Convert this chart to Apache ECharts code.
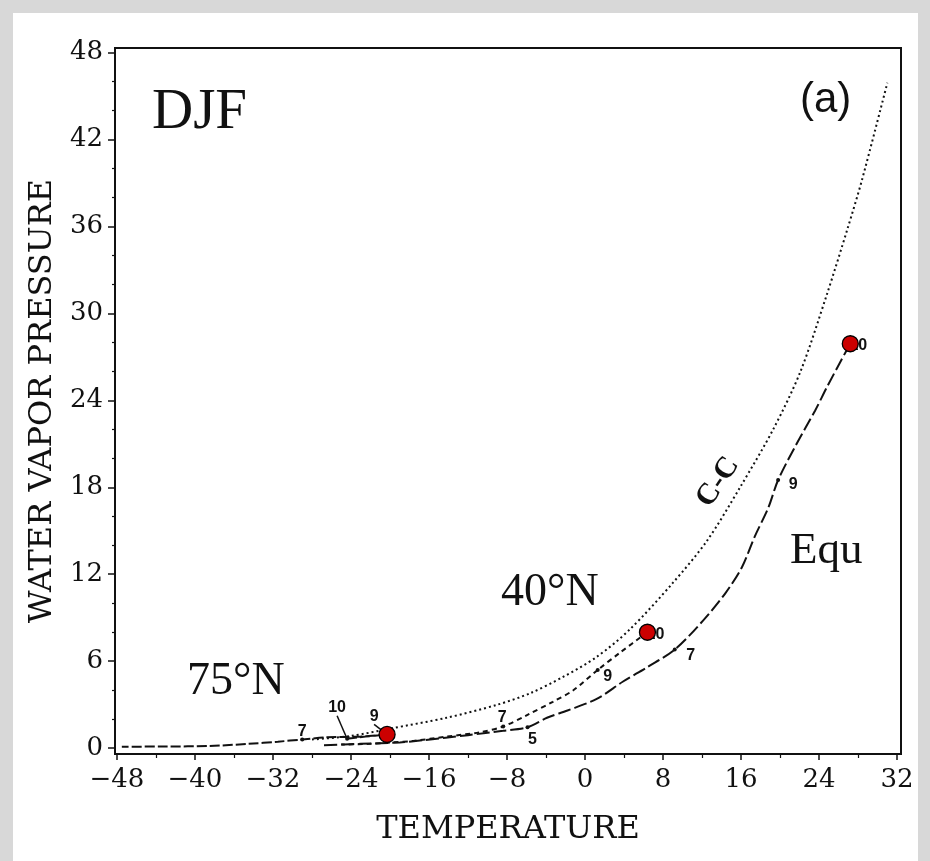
<!DOCTYPE html>
<html>
<head>
<meta charset="utf-8">
<script src="https://cdn.jsdelivr.net/npm/echarts@6/dist/echarts.min.js"></script>
<style>
  html, body { margin: 0; padding: 0; background: #ffffff; }
  #chart { width: 930px; height: 861px; }
</style>
</head>
<body>
<div id="chart"></div>
<script>
// Axis ticks
const xTicks = [-48, -40, -32, -24, -16, -8, 0, 8, 16, 24, 32];
const xMinorTicks = [-44, -36, -28, -20, -12, -4, 4, 12, 20, 28];
const yTicks = [0, 6, 12, 18, 24, 30, 36, 42, 48];
const yMinorTicks = [2, 4, 8, 10, 14, 16, 20, 22, 26, 28, 32, 34, 38, 40, 44, 46];

// Saturation (Clausius-Clapeyron) curve: temperature (°C) / vapour pressure
const ccTemp = [-28, -24, -20, -14.2, -9, -5.6, -2.3, 1.2, 4.6, 9.0, 12.5, 15.9, 19.3, 22.1, 24.8, 26.9, 28.4, 31.0];
const ccVap  = [0.6, 0.85, 1.35, 2.1, 3.0, 3.8, 4.9, 6.3, 8.2, 11.4, 14.3, 18.0, 22.0, 26.0, 31.3, 35.8, 39.2, 45.9];

// Equatorial profile (surface upward)
const equTemp = [27.2, 26.3, 24.8, 23.6, 21.7, 19.8, 18.8, 17.4, 16.1, 14.4, 12.1, 9.2, 6.4, 3.9, 1.2, -1.8, -3.9, -5.9, -8.4, -12.0, -16.6, -19.0, -23.0, -27.0];
const equVap  = [27.9, 26.8, 24.9, 23.3, 21.0, 18.5, 16.6, 14.6, 12.5, 10.7, 8.8, 6.8, 5.6, 4.6, 3.4, 2.6, 2.1, 1.45, 1.2, 0.9, 0.55, 0.4, 0.3, 0.2];

// 40°N profile
const n40Temp = [6.4, 3.6, 1.3, -1.2, -3.3, -5.9, -8.4, -10.8, -14.2, -17.6, -19.7, -22.0, -25.0];
const n40Vap  = [8.0, 6.6, 5.4, 4.0, 3.2, 2.3, 1.5, 1.1, 0.8, 0.5, 0.4, 0.3, 0.25];

// 75°N profile
const n75Temp = [-24.4, -22.5, -20.3, -23.0, -26.5, -29.0, -31.5, -34.5, -38.5, -43.0, -47.5];
const n75Vap  = [0.65, 0.8, 0.95, 0.8, 0.75, 0.6, 0.45, 0.3, 0.15, 0.12, 0.1];

// Labelled sigma levels on each profile
const equLevelTemp = [27.2, 19.8, 9.2, -5.9];
const equLevelVap  = [27.9, 18.5, 6.8, 1.45];
const equLevelName = ['10', '9', '7', '5'];
const n40LevelTemp = [6.4, 1.3, -8.4];
const n40LevelVap  = [8.0, 5.4, 1.5];
const n40LevelName = ['10', '9', '7'];
const n75LevelTemp = [-24.4, -20.3, -29.0];
const n75LevelVap  = [0.65, 0.95, 0.6];
const n75LevelName = ['10', '9', '7'];

// Highlighted points
const dotTemp = [-20.3, 6.4, 27.2];
const dotVap  = [0.95, 8.0, 27.9];

// Label placement (pixels relative to the marked point)
const equLabelOffset = [[8, 2], [15, 5], [16, 6], [5, 12]];
const n40LabelOffset = [[8, 2], [10, 7], [-1, -9]];
const n75LabelOffset = [[-10, -31], [-13, -18], [0, -8]];
const n75Leader = [true, true, false];

const zip = (a, b) => a.map((v, i) => [v, b[i]]);
const ink = '#111111';
const serif = 'DejaVu Serif';
const minus = v => String(v).replace('-', '\u2212');

function levelData(t, e, names, offsets) {
  return t.map((v, i) => ({
    value: [v, e[i]],
    label: { formatter: names[i], offset: offsets[i] }
  }));
}

const chart = echarts.init(document.getElementById('chart'), null, { renderer: 'canvas' });

const tickLabel = { fontFamily: serif, fontSize: 26, color: ink };
const levelLabel = { show: true, position: 'inside', align: 'center', verticalAlign: 'middle',
                     fontFamily: 'Liberation Sans', fontWeight: 'bold', fontSize: 16, color: ink };

chart.setOption({
  backgroundColor: '#ffffff',
  animation: false,
  grid: {
    left: 115, top: 48, width: 786, height: 706,
    show: true, borderColor: ink, borderWidth: 2, backgroundColor: 'transparent'
  },
  xAxis: [
    {
      type: 'value', min: -48.2, max: 32.4, position: 'bottom',
      axisLine: { show: true, onZero: false, lineStyle: { color: ink, width: 2 } },
      axisTick: { show: true, length: 6, customValues: xTicks, lineStyle: { color: ink, width: 1.5 } },
      axisLabel: Object.assign({ customValues: xTicks, margin: 13, formatter: minus }, tickLabel),
      splitLine: { show: false },
      name: 'TEMPERATURE', nameLocation: 'middle', nameGap: 60,
      nameTextStyle: { fontFamily: serif, fontSize: 32, color: ink }
    },
    {
      type: 'value', min: -48.2, max: 32.4, position: 'bottom',
      axisLine: { show: false, onZero: false },
      axisTick: { show: true, length: 4, customValues: xMinorTicks, lineStyle: { color: ink, width: 1.2 } },
      axisLabel: { show: false },
      splitLine: { show: false }
    }
  ],
  yAxis: [
    {
      type: 'value', min: -0.4, max: 48.3, position: 'left',
      axisLine: { show: true, onZero: false, lineStyle: { color: ink, width: 2 } },
      axisTick: { show: true, length: 7, customValues: yTicks, lineStyle: { color: ink, width: 1.5 } },
      axisLabel: Object.assign({ customValues: yTicks, margin: 12 }, tickLabel),
      splitLine: { show: false },
      name: 'WATER VAPOR PRESSURE', nameLocation: 'middle', nameGap: 46, nameRotate: 90,
      nameTextStyle: { fontFamily: serif, fontSize: 32, color: ink }
    },
    {
      type: 'value', min: -0.4, max: 48.3, position: 'left',
      axisLine: { show: false, onZero: false },
      axisTick: { show: true, length: 3, customValues: yMinorTicks, lineStyle: { color: ink, width: 1.2 } },
      axisLabel: { show: false },
      splitLine: { show: false }
    }
  ],
  graphic: [
    { type: 'rect', silent: true, z: -10, shape: { x: 0, y: 0, width: 930, height: 13 }, style: { fill: '#d8d8d8' } },
    { type: 'rect', silent: true, z: -10, shape: { x: 0, y: 0, width: 13, height: 861 }, style: { fill: '#d8d8d8' } },
    { type: 'rect', silent: true, z: -10, shape: { x: 918, y: 0, width: 12, height: 861 }, style: { fill: '#d8d8d8' } },
    { type: 'text', x: 152, y: 113, style: { text: 'DJF', font: '57px "Liberation Serif"', fill: ink, align: 'left', verticalAlign: 'middle' } },
    { type: 'text', x: 800, y: 100, style: { text: '(a)', font: '42px "Liberation Sans"', fill: ink, align: 'left', verticalAlign: 'middle' } },
    { type: 'text', x: 187, y: 682, style: { text: '75°N', font: '46px "Liberation Serif"', fill: ink, align: 'left', verticalAlign: 'middle' } },
    { type: 'text', x: 501, y: 593, style: { text: '40°N', font: '46px "Liberation Serif"', fill: ink, align: 'left', verticalAlign: 'middle' } },
    { type: 'text', x: 790, y: 551, style: { text: 'Equ', font: '45px "Liberation Serif"', fill: ink, align: 'left', verticalAlign: 'middle' } },
    { type: 'text', x: 718, y: 482, rotation: 56 * Math.PI / 180, style: { text: 'C-C', font: 'bold 30px "Liberation Serif"', fill: ink, align: 'center', verticalAlign: 'middle' } }
  ],
  series: [
    {
      name: 'C-C', type: 'line', data: zip(ccTemp, ccVap), smooth: 0.3, showSymbol: false,
      lineStyle: { color: ink, width: 2, type: [2, 3] }
    },
    {
      name: 'Equ', type: 'line', data: zip(equTemp, equVap), smooth: 0.3, showSymbol: false,
      lineStyle: { color: ink, width: 2, type: [13, 4] }
    },
    {
      name: '40°N', type: 'line', data: zip(n40Temp, n40Vap), smooth: 0.3, showSymbol: false,
      lineStyle: { color: ink, width: 2, type: [5, 4] }
    },
    {
      name: '75°N', type: 'line', data: zip(n75Temp, n75Vap), smooth: 0.3, showSymbol: false,
      lineStyle: { color: ink, width: 2, type: [10, 3] }
    },
    {
      name: 'levels', type: 'scatter', symbol: 'circle', symbolSize: 4,
      itemStyle: { color: ink, opacity: 1 },
      label: levelLabel,
      data: levelData(equLevelTemp, equLevelVap, equLevelName, equLabelOffset)
        .concat(levelData(n40LevelTemp, n40LevelVap, n40LevelName, n40LabelOffset))
    },
    {
      name: 'levels75', type: 'scatter', symbol: 'circle', symbolSize: 4,
      itemStyle: { color: ink, opacity: 1 },
      label: levelLabel,
      labelLine: { show: true, lineStyle: { color: ink, width: 1.5 } },
      labelLayout: p => ({ dx: n75LabelOffset[p.dataIndex][0], dy: n75LabelOffset[p.dataIndex][1] }),
      data: n75LevelTemp.map((v, i) => ({
        value: [v, n75LevelVap[i]],
        label: { formatter: n75LevelName[i] },
        labelLine: { show: n75Leader[i] }
      }))
    },
    {
      name: 'surface', type: 'scatter', z: 5, symbol: 'circle', symbolSize: 16,
      itemStyle: { color: '#cc0000', borderColor: '#000000', borderWidth: 1.3, opacity: 1 },
      data: zip(dotTemp, dotVap)
    }
  ]
});
</script>
</body>
</html>
